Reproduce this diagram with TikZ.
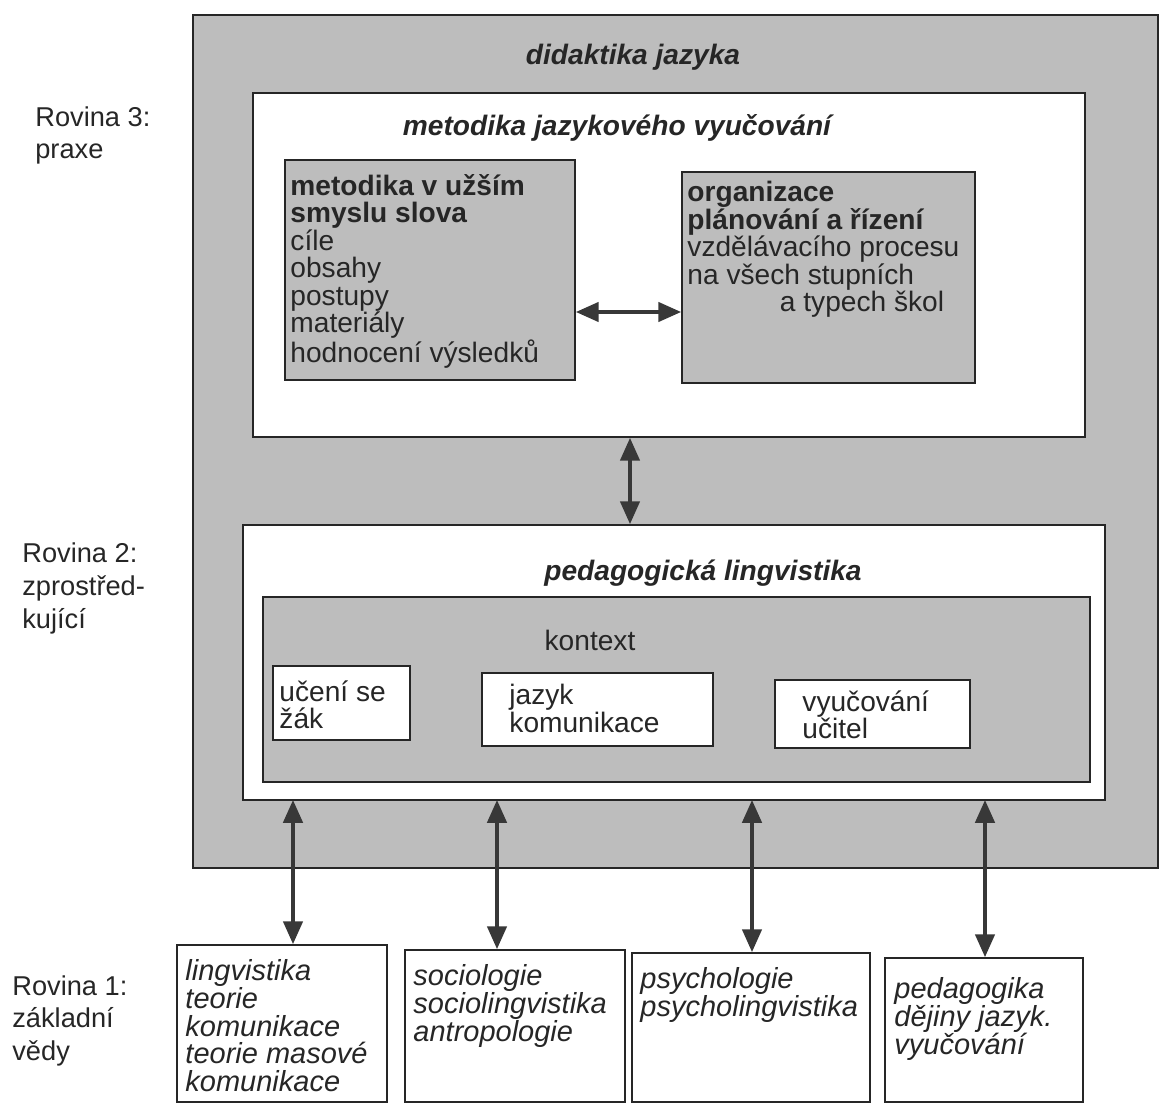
\documentclass[tikz,border=0pt]{standalone}
\usepackage{fontspec}
\setmainfont{Liberation Sans}
\usepackage{tikz}
\usetikzlibrary{positioning}
\usetikzlibrary{shapes.geometric, arrows.meta}

\definecolor{scangray}{gray}{0.74}
\definecolor{inkgray}{gray}{0.22}

\tikzset{
  graybox/.style={draw=black!85, fill=scangray, line width=1pt, inner sep=0pt},
  whitebox/.style={draw=black!85, fill=white, line width=1pt, inner sep=0pt},
  boxtext/.style={inner sep=0pt, align=left, text=black!85, font=\fontsize{16}{15.6}\selectfont},
  headtext/.style={inner sep=0pt, text=black!85, font=\fontsize{16}{18}\selectfont\bfseries\itshape},
  leveltext/.style={inner sep=0pt, align=left, text=black!85, font=\fontsize{15.5}{18.7}\selectfont},
  dblarrow/.style={{Triangle[length=13pt,width=11pt]}-{Triangle[length=13pt,width=11pt]}, line width=2pt, draw=inkgray}
}

\begin{document}
\begin{tikzpicture}
        \useasboundingbox (0,0) rectangle (23.26,-22.12);

        % rovina 3 a 2
        \node[graybox, line width=1.6pt, minimum width=19.3cm, minimum height=17.06cm] (didak) at (13.51,-8.83) {};
        \node[headtext] (didakt) at (12.66,-1.14) {didaktika jazyka};

        \node[whitebox, minimum width=16.64cm, minimum height=6.88cm] (meto) at (13.38,-5.30) {};
        \node[headtext] (metot) at (12.34,-2.56) {metodika jazykového vyučování};

        \node[graybox, minimum width=5.8cm, minimum height=4.4cm] (uzsi) at (8.6,-5.4) {};
        \node[boxtext, below right=0.3cm and 0.12cm of uzsi.north west] (uzsit) {\textbf{metodika v užším}\\ \textbf{smyslu slova}\\ cíle\\ obsahy\\ postupy\\ materiály\\ hodnocení výsledků};

        \node[graybox, minimum width=5.86cm, minimum height=4.22cm] (orga) at (16.57,-5.55) {};
        \node[boxtext, below right=0.2cm and 0.12cm of orga.north west] (orgat) {\textbf{organizace}\\ \textbf{plánování a řízení}\\ vzdělávacího procesu\\ na všech stupních\\ \hspace*{1.85cm}a typech škol};

        \node[whitebox, minimum width=17.24cm, minimum height=5.5cm] (peda) at (13.48,-13.25) {};
        \node[headtext] (pedat) at (14.06,-11.46) {pedagogická lingvistika};

        \node[graybox, minimum width=16.54cm, minimum height=3.7cm] (kont) at (13.53,-13.79) {};
        \node[boxtext] (kontt) at (11.8,-12.8) {kontext};

        \node[whitebox, minimum width=2.74cm, minimum height=1.48cm] (zak) at (6.83,-14.06) {};
        \node[boxtext, below right=0.3cm and 0.14cm of zak.north west] (zakt) {učení se\\ žák};
        \node[whitebox, minimum width=4.62cm, minimum height=1.46cm] (jaz) at (11.95,-14.19) {};
        \node[boxtext, below right=0.24cm and 0.56cm of jaz.north west] (jazt) {jazyk\\ komunikace};
        \node[whitebox, minimum width=3.9cm, minimum height=1.36cm] (uci) at (17.45,-14.28) {};
        \node[boxtext, below right=0.22cm and 0.56cm of uci.north west] (ucit) {vyučování\\ učitel};

        % rovina 1
        \node[whitebox, minimum width=4.2cm, minimum height=3.14cm] (ling) at (5.64,-20.47) {};
        \node[boxtext, below right=0.3cm and 0.18cm of ling.north west, font=\fontsize{16.5}{15.8}\selectfont\itshape] (lingt) {lingvistika\\ teorie\\ komunikace\\ teorie masové\\ komunikace};
        \node[whitebox, minimum width=4.4cm, minimum height=3.04cm] (soci) at (10.3,-20.52) {};
        \node[boxtext, below right=0.3cm and 0.18cm of soci.north west, font=\fontsize{16.5}{15.8}\selectfont\itshape] (socit) {sociologie\\ sociolingvistika\\ antropologie};
        \node[whitebox, minimum width=4.76cm, minimum height=2.98cm] (psy) at (15.02,-20.55) {};
        \node[boxtext, below right=0.3cm and 0.18cm of psy.north west, font=\fontsize{16.5}{15.8}\selectfont\itshape] (psyt) {psychologie\\ psycholingvistika};
        \node[whitebox, minimum width=3.96cm, minimum height=2.88cm] (ped) at (19.68,-20.6) {};
        \node[boxtext, below right=0.4cm and 0.2cm of ped.north west, font=\fontsize{16.5}{15.8}\selectfont\itshape] (pedt) {pedagogika\\ dějiny jazyk.\\ vyučování};

        % roviny
        \node[leveltext, anchor=north west] (r3) at (0.7,-2.12) {Rovina 3:\\ praxe};
        \node[leveltext, anchor=north west] (r2) at (0.44,-10.85) {Rovina 2:\\ zprostřed-\\ kující};
        \node[leveltext, anchor=north west] (r1) at (0.24,-19.5) {Rovina 1:\\ základní\\ vědy};

        % sipky
        \coordinate (a1) at (5.86,-16);
        \coordinate (a2) at (9.94,-16);
        \coordinate (a3) at (15.04,-16);
        \coordinate (a4) at (19.7,-16);
        \coordinate (am) at (12.6,-6.24);

        \draw[dblarrow] (uzsi.east |- 0,-6.24) -- (orga.west |- 0,-6.24);
        \draw[dblarrow] (meto.south -| am) -- (peda.north -| am);
        \draw[dblarrow] (a1) -- (a1 |- ling.north);
        \draw[dblarrow] (a2) -- (a2 |- soci.north);
        \draw[dblarrow] (a3) -- (a3 |- psy.north);
        \draw[dblarrow] (a4) -- (a4 |- ped.north);
    \end{tikzpicture}
\end{document}
